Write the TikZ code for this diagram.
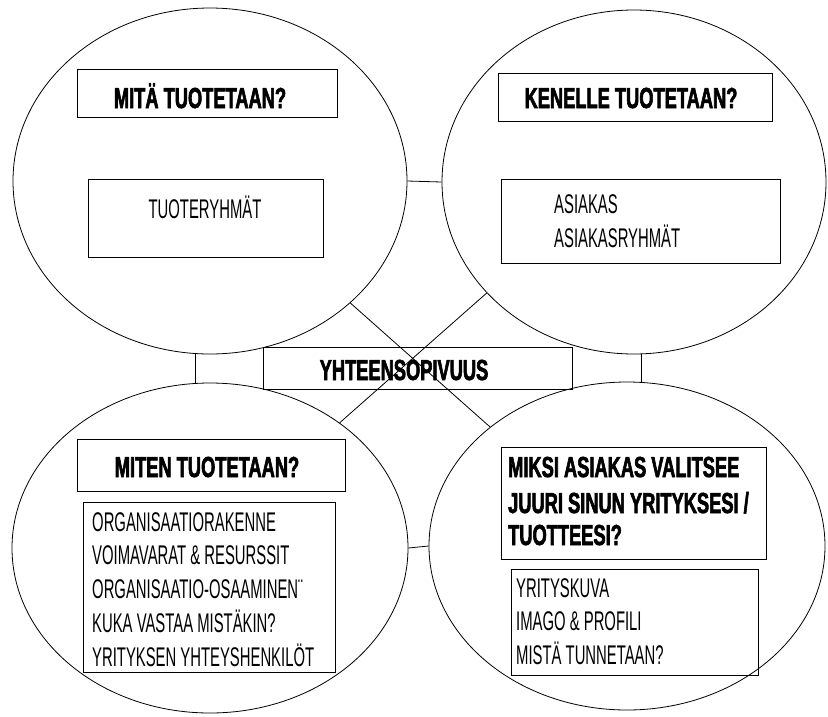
\documentclass[tikz,border=0pt]{standalone}
\usepackage{fontspec}
\newfontfamily\regf[FakeStretch=0.55]{Liberation Sans}
\newfontfamily\boldf[FakeStretch=0.63,FakeBold=2]{Liberation Sans}
\usetikzlibrary{shapes.geometric,calc}
\tikzset{
  ell/.style={ellipse, draw, line width=0.8pt, inner sep=0pt},
  bx/.style={draw, line width=1pt, inner sep=0pt},
  conn/.style={line width=0.8pt},
  rt/.style={font=\regf\fontsize{27}{33}\selectfont, inner sep=0pt, anchor=base west},
  bt/.style={font=\boldf\bfseries\fontsize{29}{37}\selectfont, inner sep=0pt, anchor=base},
  btw/.style={bt, anchor=base west}
}
\begin{document}
\begin{tikzpicture}[x=1pt,y=-1pt]
\useasboundingbox (0,0) rectangle (828,716);
% ellipses
\node[ell, minimum width=394pt, minimum height=346pt] (tl) at (210,181) {};
\node[ell, minimum width=384pt, minimum height=344pt] (tr) at (634,182) {};
\node[ell, minimum width=396pt, minimum height=330pt] (bl) at (210,548) {};
\node[ell, minimum width=396pt, minimum height=328pt] (br) at (627,546) {};
% connectors
\draw[conn] (tl.east) -- (tr.west);
\draw[conn] (bl.east) -- (br.west);
\draw[conn] ($(tl.south)+(-15,0)$) -- ($(bl.north)+(-15,0)$);
\draw[conn] ($(tr.south)+(7,0)$) -- ($(br.north)+(14,0)$);
\draw[conn] (tl.-41) -- (br.139);
\draw[conn] (tr.-143) -- (bl.44);
% centre box
\node[bx, minimum width=309pt, minimum height=42pt] (cbox) at (417.5,368) {};
\node[bt] (ctext) at (404,380) {YHTEENSOPIVUUS};
% top-left
\node[bx, minimum width=260pt, minimum height=48pt] (tlh) at (207,93) {};
\node[bt] (tlht) at (200,108) {MITÄ TUOTETAAN?};
\node[bx, minimum width=235pt, minimum height=78pt] (tlc) at (205.5,218) {};
\node[rt, anchor=base] (tlct) at (205,218) {TUOTERYHMÄT};
% top-right
\node[bx, minimum width=274pt, minimum height=48pt] (trh) at (635,97) {};
\node[bt] (trht) at (631,108) {KENELLE TUOTETAAN?};
\node[bx, minimum width=279pt, minimum height=84pt] (trc) at (640.5,221) {};
\node[rt] (trc1) at (554,213) {ASIAKAS};
\node[rt] (trc2) at (554,247) {ASIAKASRYHMÄT};
% bottom-left
\node[bx, minimum width=268pt, minimum height=52pt] (blh) at (211,465) {};
\node[bt] (blht) at (207,477) {MITEN TUOTETAAN?};
\node[bx, minimum width=252pt, minimum height=170pt] (blc) at (209,587) {};
\node[rt] (blc1) at (92,531) {ORGANISAATIORAKENNE};
\node[rt] (blc2) at (92,564) {VOIMAVARAT \& RESURSSIT};
\node[rt] (blc3) at (92,598) {ORGANISAATIO-OSAAMINEN¨};
\node[rt] (blc4) at (92,632) {KUKA VASTAA MISTÄKIN?};
\node[rt] (blc5) at (92,666) {YRITYKSEN YHTEYSHENKILÖT};
% bottom-right
\node[bx, minimum width=265pt, minimum height=112pt] (brh) at (633.5,503) {};
\node[btw] (brh1) at (508,477) {MIKSI ASIAKAS VALITSEE};
\node[btw] (brh2) at (508,513) {JUURI SINUN YRITYKSESI /};
\node[btw] (brh3) at (508,545) {TUOTTEESI?};
\node[bx, minimum width=247pt, minimum height=106pt] (brc) at (634.5,622) {};
\node[rt] (brc1) at (516,597) {YRITYSKUVA};
\node[rt] (brc2) at (516,630) {IMAGO \& PROFILI};
\node[rt] (brc3) at (516,664) {MISTÄ TUNNETAAN?};
\end{tikzpicture}
\end{document}
